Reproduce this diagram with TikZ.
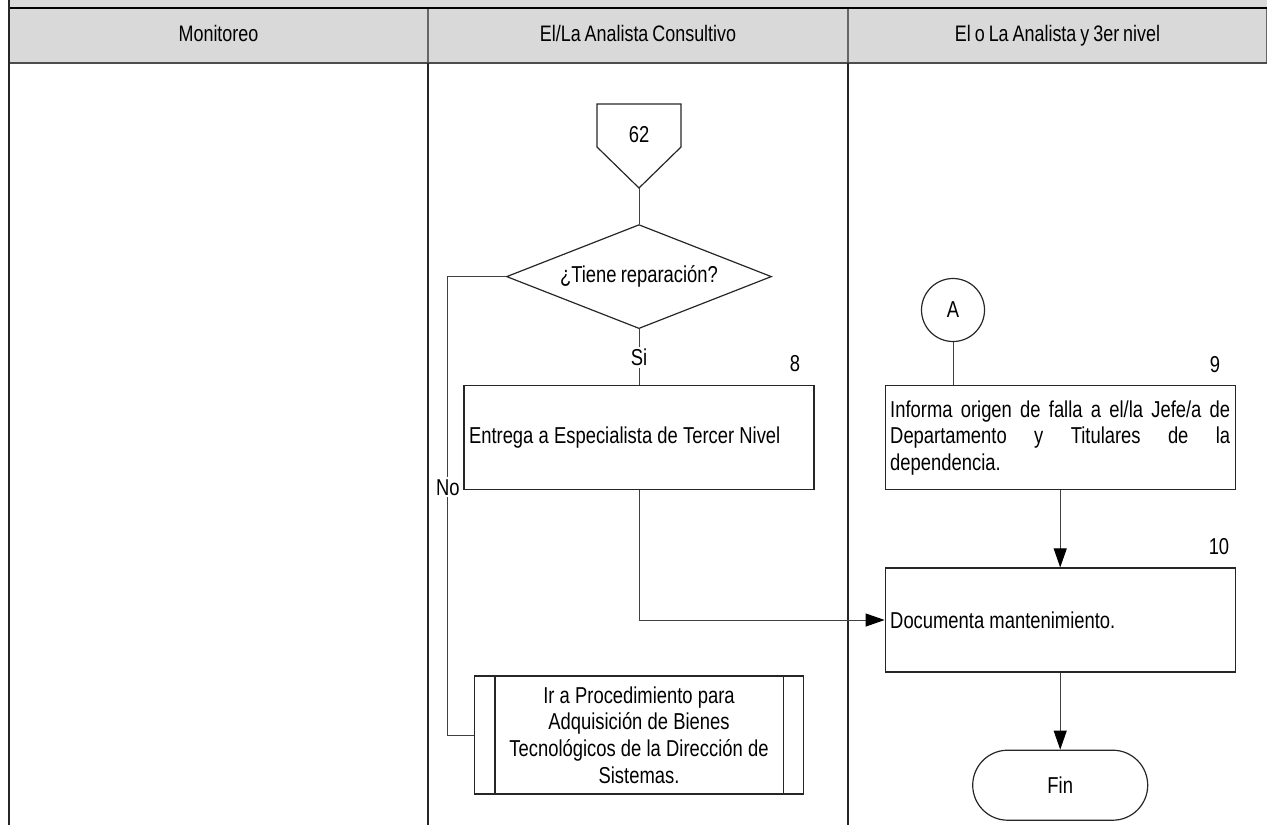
\documentclass[tikz,border=0pt]{standalone}
\usepackage{fontspec}
\setmainfont[FakeStretch=0.8, WordSpace=0.8]{Liberation Sans}
\usetikzlibrary{positioning,shapes.geometric,arrows.meta}
\definecolor{headgray}{HTML}{D9D9D9}
\tolerance=10000
\hyphenpenalty=10000

\begin{document}
\begin{tikzpicture}[x=0.5pt, y=-0.5pt, font=\fontsize{11.5}{13.3}\selectfont,
	line width=0.6pt, node distance=0pt,
	head/.style = { rectangle, draw=black!60, fill=headgray, outer sep=0pt,
	inner sep=0pt, minimum height=27.5pt, text height=8.5pt, text depth=2.5pt,
	font=\fontsize{11.2}{13}\selectfont },
	tight/.style = { execute at begin node={\spaceskip=2.6pt plus 3pt minus 0.5pt
	\xspaceskip=0pt} },
	block/.style = { rectangle, draw=black!85, fill=white, minimum width=175pt,
	minimum height=52pt, text width=170pt, inner xsep=2.5pt, align=flush left,
	tight },
	decision/.style = { diamond, draw=black!85, aspect=2.55, inner sep=0pt,
	minimum width=132.5pt, minimum height=52pt },
	subproc/.style = { rectangle, draw=black!85, minimum width=164.5pt,
	minimum height=59pt, text width=138pt, inner sep=0pt, align=flush center,
	tight },
	conn/.style = { circle, draw=black!85, minimum size=31.5pt, inner sep=0pt },
	term/.style = { rectangle, rounded corners=17.5pt, draw=black!85,
	minimum width=87.5pt, minimum height=35pt },
	lbl/.style = { fill=white, inner sep=1pt },
	num/.style = { inner sep=0pt },
	flow/.style = { draw=black!75, line width=0.5pt },
	arr/.style = { -{Triangle[length=9.5pt, width=6.5pt, color=black]} } ]

  \useasboundingbox (0,0) rectangle (1267,825);

  % lane headers
  \fill [headgray] (9,0) rectangle (1267,8);
  \node [name=hmon, head, minimum width=209.5pt] at (218.5,35.5) {Monitoreo};
  \node [name=hana, head, minimum width=210pt, right=of hmon]
	{El/La Analista Consultivo};
  \node [name=hter, head, minimum width=209.5pt, right=of hana]
	{El o La Analista y 3er nivel};
  \draw [line width=0.9pt] (hmon.north west) -- (hter.north east);
  \draw [line width=1.1pt, black!70] (hmon.south west) -- (hter.south east);
  \draw [black!85] (9,0) -- (9,825);
  \draw [black!85] (hana.south west) -- ++(0,762);
  \draw [black!85] (hana.south east) -- ++(0,762);

  % analista consultivo
  \node [name=off62, inner sep=0pt] at (639,135) {62};
  \draw [black!85] (off62.center) ++(-42,-31) -- ++(84,0) -- ++(0,43)
	-- ++(-42,41) coordinate (off62tip) -- ++(-42,-41) -- cycle;
  \node [name=dec, decision, below=18pt of off62tip] {¿Tiene reparación?};
  \draw [flow] (off62tip) -- (dec);
  \node [name=box8, block, below=28pt of dec]
	{Entrega a Especialista de Tercer Nivel};
  \node [name=num8, num, above left=6.5pt and 7pt of box8.north east] {8};
  \draw [flow] (dec) -- node [lbl] {Si} (box8);
  \node [name=sub, subproc, below=92.5pt of box8]
	{Ir a Procedimiento para\\ Adquisición de Bienes\\
	Tecnológicos de la Dirección de\\ Sistemas.};
  \draw [black!85] ([xshift=10.5pt]sub.north west) -- ([xshift=10.5pt]sub.south west)
	([xshift=-10.5pt]sub.north east) -- ([xshift=-10.5pt]sub.south east);
  \draw [flow] (dec.west) -- ++(-58,0) |- node [lbl, pos=0.23] {No} (sub.west);

  % analista y 3er nivel
  \node [name=box9, block, align=justify, tight, right=35pt of box8]
	{Informa origen de falla a el/la Jefe/a de\linebreak Departamento y Titulares de la dependencia.};
  \node [name=num9, num, above left=6pt and 7.5pt of box9.north east] {9};
  \node [name=conA, conn] at (953,310) {A};
  \draw [flow] (conA) -- (conA |- box9.north);
  \node [name=box10, block, below=38.5pt of box9] {Documenta mantenimiento.};
  \node [name=num10, num, above left=6pt and 3pt of box10.north east] {10};
  \node [name=fin, term, below=38.5pt of box10] {Fin};
  \draw [flow, arr] (box9) -- (box10);
  \draw [flow, arr] (box10) -- (fin);
  \draw [flow, arr] (box8) |- (box10);
\end{tikzpicture}
\end{document}
